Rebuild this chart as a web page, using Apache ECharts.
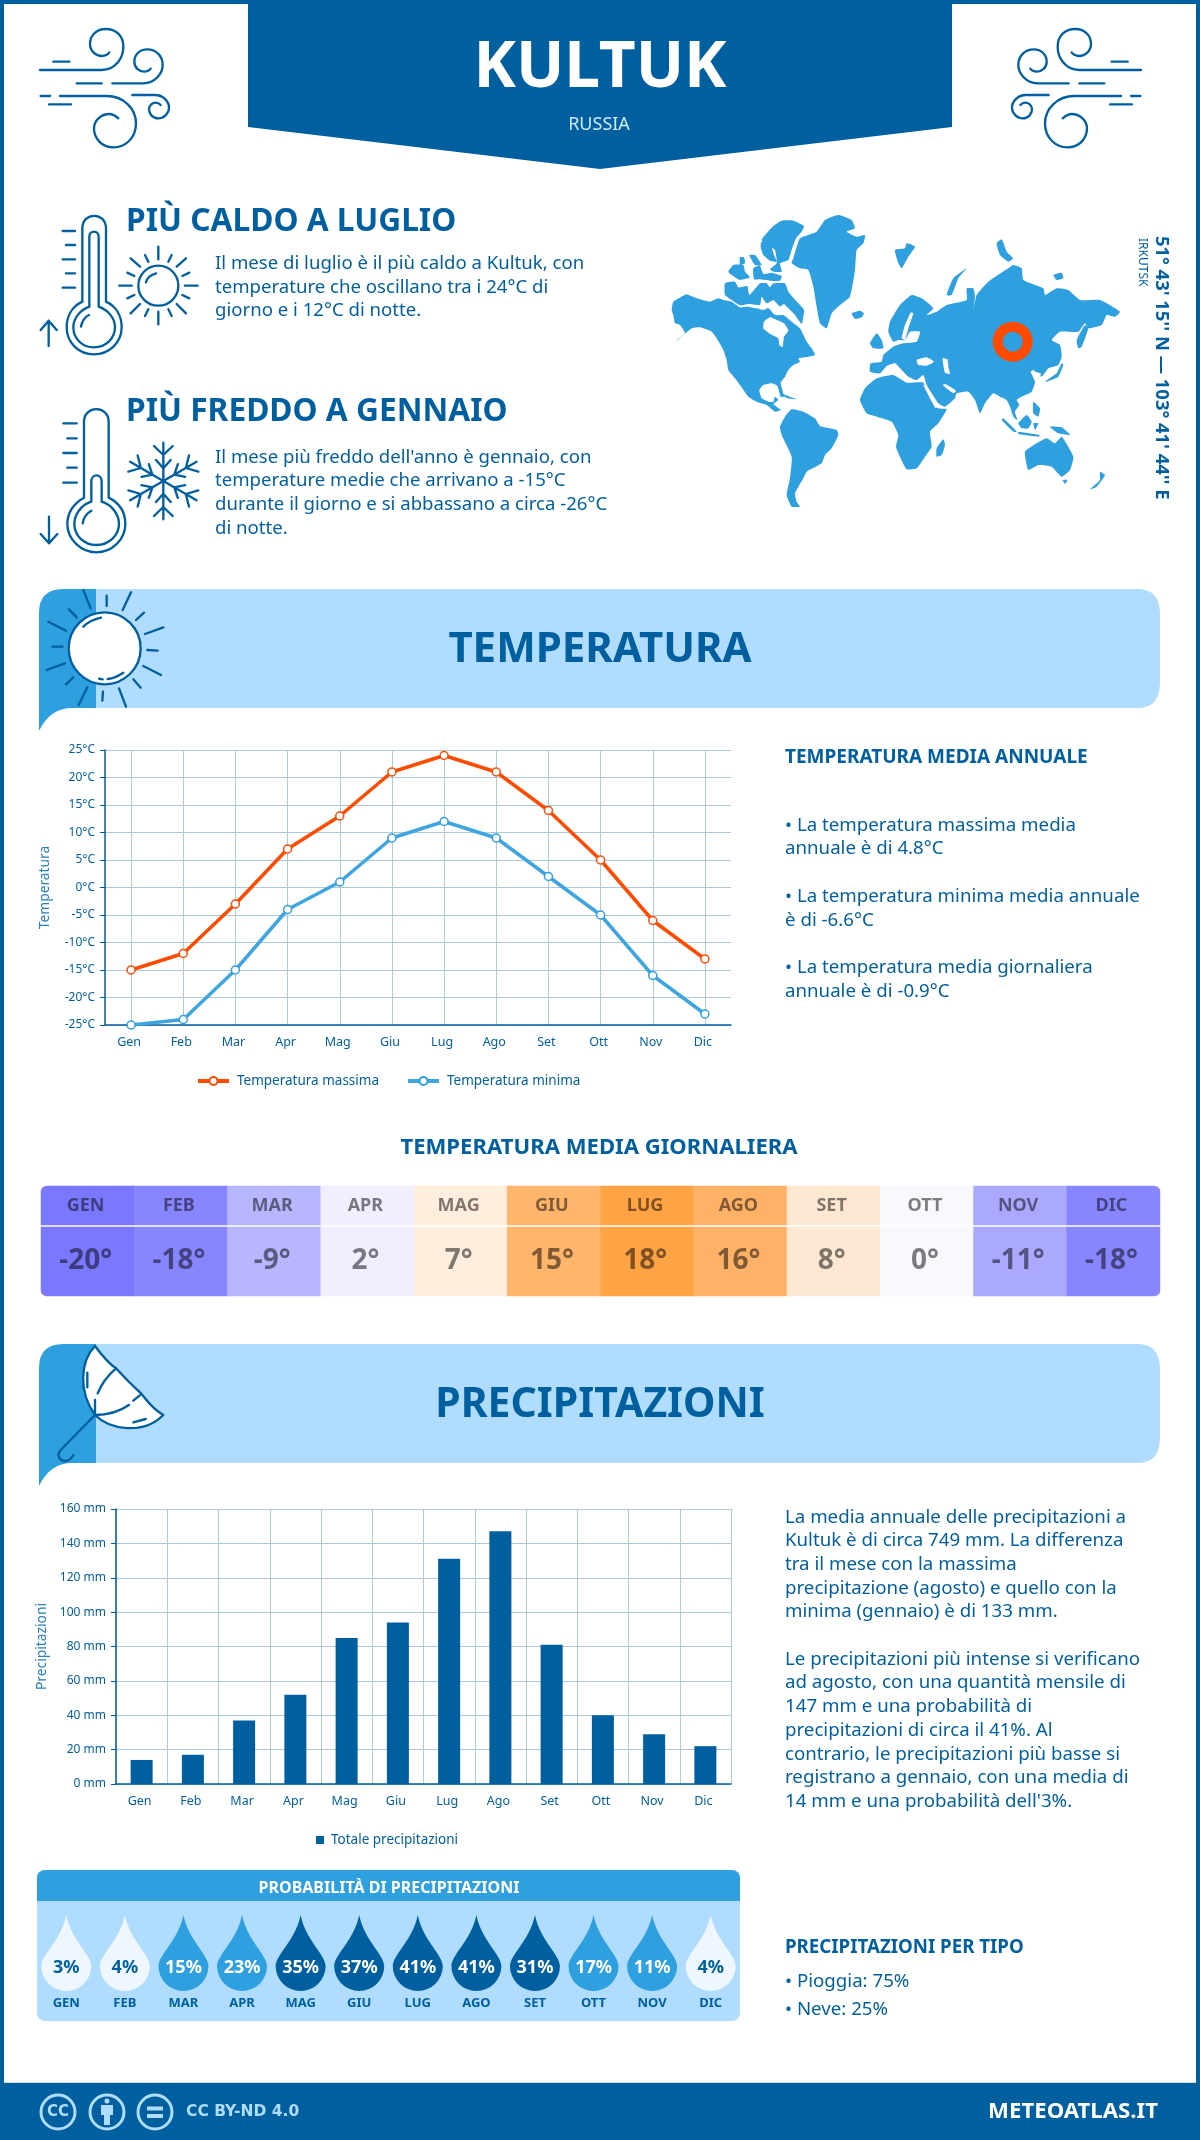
<!DOCTYPE html>
<html>
<head>
<meta charset="utf-8">
<title>Kultuk</title>
<script src="https://cdn.jsdelivr.net/npm/echarts@6/dist/echarts.min.js"></script>
<style>
  html, body { margin: 0; padding: 0; background: #fff; }
  #chart { width: 1200px; height: 2140px; }
</style>
</head>
<body>
<div id="chart"></div>
<script>
// values
const months = ['Gen', 'Feb', 'Mar', 'Apr', 'Mag', 'Giu', 'Lug', 'Ago', 'Set', 'Ott', 'Nov', 'Dic']
const monthsUp = ['GEN', 'FEB', 'MAR', 'APR', 'MAG', 'GIU', 'LUG', 'AGO', 'SET', 'OTT', 'NOV', 'DIC']
const tempMax = [-15, -12, -3, 7, 13, 21, 24, 21, 14, 5, -6, -13]
const tempMin = [-25, -24, -15, -4, 1, 9, 12, 9, 2, -5, -16, -23]
const tempDaily = [-20, -18, -9, 2, 7, 15, 18, 16, 8, 0, -11, -18]
const precip = [14, 17, 37, 52, 85, 94, 131, 147, 81, 40, 29, 22]
const precipProb = [3, 4, 15, 23, 35, 37, 41, 41, 31, 17, 11, 4]

const DARK = '#005f9e'
const MID = '#2e9fdf'
const PALE = '#b0dcff'
const ORANGE = '#ff4b00'
const GRID = '#adc9de'
const FONT = '"Noto Sans", "Open Sans", sans-serif'

// colour of each daily temperature cell, month by month
const dailyColors = ['#7a78ff', '#8886ff', '#b7b6ff', '#f0efff', '#ffeedd', '#ffb56b', '#ffa344', '#ffb267', '#ffe8d2', '#f8f8ff', '#aaa9ff', '#8886ff']

const hotText = ['Il mese di luglio è il più caldo a Kultuk, con', 'temperature che oscillano tra i 24°C di', 'giorno e i 12°C di notte.']
const coldText = ["Il mese più freddo dell'anno è gennaio, con", 'temperature medie che arrivano a -15°C', 'durante il giorno e si abbassano a circa -26°C', 'di notte.']
const annualText = [
  [825, '• La temperatura massima media'], [848, 'annuale è di 4.8°C'],
  [896, '• La temperatura minima media annuale'], [920, 'è di -6.6°C'],
  [967, '• La temperatura media giornaliera'], [991, 'annuale è di -0.9°C']
]
const rainText = [
  [1517, 'La media annuale delle precipitazioni a'], [1540, 'Kultuk è di circa 749 mm. La differenza'],
  [1564, 'tra il mese con la massima'], [1588, 'precipitazione (agosto) e quello con la'],
  [1611, 'minima (gennaio) è di 133 mm.'],
  [1659, 'Le precipitazioni più intense si verificano'], [1682, 'ad agosto, con una quantità mensile di'],
  [1706, '147 mm e una probabilità di'], [1730, 'precipitazioni di circa il 41%. Al'],
  [1754, 'contrario, le precipitazioni più basse si'], [1777, 'registrano a gennaio, con una media di'],
  [1801, "14 mm e una probabilità dell'3%."]
]

// decoration helpers
function label(text, x, y, size, opt) {
  opt = opt || {}
  return {
    type: 'text', x: x, y: y + 1, rotation: opt.rotation || 0, silent: true,
    style: {
      text: text, fill: opt.fill || DARK, align: opt.align || 'left', verticalAlign: 'middle',
      fontFamily: opt.family || FONT, fontSize: size, fontWeight: opt.weight || 'normal'
    }
  }
}
function rect(x, y, w, h, fill, r) {
  return { type: 'rect', silent: true, shape: { x: x, y: y, width: w, height: h, r: r || 0 }, style: { fill: fill } }
}
// the graphic component has no plain path type, so each outline gets its own shape class
let pathCount = 0
function pathType(d) {
  const name = 'outline' + (pathCount++)
  echarts.graphic.registerShape(name, echarts.graphic.extendPath(d))
  return name
}
// stroked icon traced in 3x zoom coordinates
function icon(type, ox, oy, width, fill, flip) {
  return {
    type: type, silent: true, x: ox, y: oy, scaleX: flip ? -1 / 3 : 1 / 3, scaleY: 1 / 3,
    style: { stroke: DARK, fill: fill || 'none', lineWidth: width || 7, lineCap: 'round', lineJoin: 'round' }
  }
}
function land(points) {
  return {
    type: 'polygon', silent: true, x: 660, y: 200, scaleX: 1 / 3, scaleY: 1 / 3,
    shape: { points: points, smooth: 0.15 }, style: { fill: MID }
  }
}
function sea(points) {
  return {
    type: 'polygon', silent: true, x: 660, y: 200, scaleX: 1 / 3, scaleY: 1 / 3,
    shape: { points: points, smooth: 0.15 }, style: { fill: '#fff' }
  }
}

const windPath = pathType('M60,180 L245,180 C290,180 310,140 310,110 C310,75 285,57 258,57 C225,57 210,80 210,102 C210,125 230,138 245,138 C258,138 268,130 268,127 ' +
  'M100,155 L148,155 M170,220 L245,220 M277,220 L370,220 C405,220 428,190 428,165 C428,135 405,118 382,118 C358,118 343,135 343,155 C343,175 360,185 372,185 C382,185 392,178 392,176 ' +
  'M62,258 L90,258 M120,258 L260,258 C310,258 348,295 348,340 C348,385 315,412 280,412 C245,412 222,385 222,355 C222,330 245,312 268,312 C280,312 295,325 295,325 ' +
  'M87,283 L153,283 M337,255 L405,255 C430,255 447,275 447,292 C447,312 430,325 415,325 C398,325 387,312 387,298 C387,285 398,278 408,278 C415,278 422,285 422,285')

const hotThermo = pathType('M187,305 L187,85 C187,35 258,35 258,85 L258,305 C290,320 305,350 305,382 C305,430 265,463 222,463 C178,463 140,430 140,382 C140,350 155,320 187,305 Z ' +
  'M208,320 L208,110 C208,90 236,90 236,110 L236,320 C265,330 285,355 285,382 C285,415 258,442 222,442 C186,442 160,415 160,382 C160,355 180,330 208,320 Z ' +
  'M183,380 C185,365 195,350 207,345 ' +
  'M128,93 L165,93 M138,135 L165,135 M128,178 L165,178 M138,220 L165,220 M128,263 L165,263 ' +
  'M86,438 L86,362 M62,390 L86,362 L110,390')
const hotSun = pathType('M355,257 A60,60 0 1 1 475,257 A60,60 0 1 1 355,257 Z M378,247 C380,235 392,225 408,220 ' +
  'M415,140 L415,178 M415,335 L415,373 M298,257 L335,257 M495,257 L533,257 ' +
  'M332,175 L360,200 M498,175 L470,200 M332,340 L360,312 M498,340 L470,312 ' +
  'M375,165 L385,185 M455,165 L445,185 M322,218 L343,228 M508,218 L487,228 ' +
  'M322,295 L343,285 M508,295 L487,285 M375,348 L385,328 M455,348 L445,328')
const coldThermo = pathType('M192,893 L192,665 C192,615 266,615 266,665 L266,893 C300,910 316,940 316,972 C316,1020 275,1057 229,1057 C185,1057 142,1020 142,972 C142,940 160,910 192,893 Z ' +
  'M214,905 L214,845 C214,820 245,820 245,845 L245,905 C278,915 297,945 297,972 C297,1005 268,1035 229,1035 C190,1035 163,1005 163,972 C163,945 182,915 214,905 Z ' +
  'M188,970 C190,955 200,940 214,932 ' +
  'M130,670 L170,670 M142,715 L170,715 M130,759 L170,759 M142,803 L170,803 M130,848 L170,848 ' +
  'M87,950 L87,1030 M62,1002 L87,1030 L112,1002')
const flakeArm = pathType('M430,843 L430,728 M402,738 L430,765 L458,738 M408,780 L430,805 L452,780')

const bannerSunRays = pathType('M160,30 L182,85 M230,47 L230,78 M303,37 L278,90 M342,98 L318,120 M400,142 L345,162 M383,212 L352,210 ' +
  'M393,285 L340,258 M332,323 L310,298 M288,380 L267,325 M217,362 L219,335 M146,375 L172,322 M130,292 L108,313 ' +
  'M105,250 L50,270 M97,200 L67,200 M108,152 L55,125 M140,112 L117,88 ' +
  'M160,140 C175,125 195,117 213,113 M207,296 L218,298 M233,297 C250,295 265,288 280,278')
const umbrellaTop = pathType('M195,33 C150,80 145,170 195,240 C240,285 340,300 400,240 C365,220 350,195 333,175 C305,150 285,130 258,100 C235,85 215,60 195,33 Z')
const umbrellaRest = pathType('M195,240 C240,240 275,225 297,210 M310,197 L333,178 M195,240 L195,195 M203,175 C215,145 235,120 258,100 ' +
  'M172,113 L172,157 M310,262 L347,252 M195,240 L92,345 C78,362 90,378 105,378 C115,378 125,370 130,360')

function banner(top, title, size) {
  const bottom = top + 119
  const body = pathType('M96,' + top + ' L1138,' + top + ' Q1160,' + top + ' 1160,' + (top + 26) + ' L1160,' + (bottom - 26) + ' Q1160,' + bottom + ' 1138,' + bottom + ' L96,' + bottom + ' Z')
  const tail = pathType('M39,' + (bottom + 23) + ' L39,' + (top + 24) + ' Q39,' + top + ' 63,' + top + ' L96,' + top + ' L96,' + bottom + ' L72,' + bottom + ' Q50,' + bottom + ' 39,' + (bottom + 23) + ' Z')
  return [
    { type: body, silent: true, style: { fill: PALE } },
    { type: tail, silent: true, style: { fill: MID } },
    label(title, 600, top + 60, size, { align: 'center', weight: 'bold' })
  ]
}

const graphics = [
  // frame and footer
  rect(0, 0, 1200, 4, DARK), rect(0, 0, 4, 2140, DARK), rect(1196, 0, 4, 2140, DARK),
  rect(4, 2082, 1192, 1, '#d8dde2'), rect(0, 2083, 1200, 57, DARK),
  // header ribbon
  { type: 'polygon', silent: true, shape: { points: [[248, 0], [952, 0], [952, 127], [600, 169], [248, 127]] }, style: { fill: DARK } },
  label('KULTUK', 600, 68, 64, { align: 'center', weight: 'bold', fill: '#fff' }),
  label('RUSSIA', 599, 124, 18, { align: 'center', fill: '#cfe9ff' }),
  icon(windPath, 20, 10), icon(windPath, 1161, 10, 7, null, true),
  // hottest and coldest blocks
  icon(hotThermo, 20, 200), icon(hotSun, 20, 200),
  icon(coldThermo, 20, 200),
  label('PIÙ CALDO A LUGLIO', 126, 221, 31.7, { weight: 'bold' }),
  label('PIÙ FREDDO A GENNAIO', 126, 411, 31.7, { weight: 'bold' })
]
hotText.forEach((t, i) => graphics.push(label(t, 215, 263 + i * 23.6, 18.6)))
coldText.forEach((t, i) => graphics.push(label(t, 215, 456.5 + i * 23.7, 18.6)))
for (let k = 0; k < 6; k++) {
  const el = icon(flakeArm, 20 + 430 / 3 - 430, 200 + 843 / 3 - 843)
  el.originX = 430; el.originY = 843; el.rotation = k * Math.PI / 3
  graphics.push(el)
}

// world map
const landShapes = [
  // north and central america
  [[40,305],[65,290],[80,283],[110,295],[150,305],[175,295],[190,300],[215,305],[240,322],[262,320],[290,325],[310,330],[325,324],[345,345],[370,345],[395,365],[420,385],[440,425],[455,445],[465,465],[445,470],[415,475],[420,485],[400,495],[385,510],[375,530],[362,548],[372,590],[362,590],[352,558],[335,550],[310,555],[298,570],[305,595],[325,605],[340,605],[345,590],[355,600],[340,612],[362,630],[345,635],[320,615],[290,605],[265,590],[240,555],[225,535],[205,510],[200,480],[190,450],[170,415],[155,395],[120,382],[95,385],[60,415],[45,425],[75,400],[60,375],[45,370],[40,345],[35,330]],
  // arctic canada
  [[320,100],[340,78],[365,62],[400,62],[432,78],[425,95],[408,115],[395,150],[385,180],[360,190],[365,215],[340,215],[330,208],[350,190],[345,150],[320,135],[305,120]],
  [[305,125],[330,130],[342,165],[350,185],[330,182],[310,165],[302,140]],
  [[280,205],[300,197],[310,222],[335,218],[365,228],[360,242],[330,242],[300,238],[282,238]],
  [[205,215],[220,195],[250,195],[255,215],[270,232],[240,240],[215,225]],
  [[268,165],[285,165],[305,195],[285,195]],
  [[240,172],[252,172],[255,190],[240,195]],
  [[195,250],[225,245],[235,262],[262,258],[268,285],[300,250],[320,250],[330,262],[340,250],[375,250],[385,275],[415,310],[432,330],[425,372],[405,345],[385,325],[372,312],[360,320],[350,310],[340,300],[320,310],[305,290],[300,315],[265,312],[240,316],[215,300],[195,285]],
  // greenland, iceland
  [[400,175],[420,115],[470,95],[495,60],[535,45],[575,60],[585,85],[560,95],[590,110],[615,105],[610,130],[590,150],[585,210],[570,290],[540,315],[515,340],[500,385],[480,370],[470,320],[460,260],[445,210],[420,205],[395,190]],
  [[575,340],[600,332],[612,340],[605,352],[585,357]],
  // caribbean
  [[360,580],[410,598],[380,594]],
  // south america
  [[360,680],[375,650],[395,628],[430,635],[465,655],[480,678],[530,690],[535,705],[515,745],[495,765],[485,790],[440,815],[430,835],[405,880],[410,905],[420,920],[395,920],[380,885],[390,835],[395,770],[365,705]],
  // africa, madagascar
  [[600,600],[615,565],[650,535],[700,525],[740,548],[790,548],[815,600],[835,625],[860,628],[835,670],[810,695],[815,740],[795,770],[770,805],[740,808],[720,770],[708,740],[715,705],[695,665],[650,650],[620,640]],
  [[850,718],[855,735],[845,765],[830,770],[830,745]],
  // eurasia
  [[630,515],[632,490],[665,485],[670,465],[700,440],[730,430],[770,425],[780,395],[750,395],[735,420],[715,420],[700,425],[685,395],[690,365],[720,315],[755,285],[785,295],[820,325],[800,345],[830,335],[860,315],[920,300],[920,265],[940,265],[945,290],[940,330],[950,285],[985,245],[1045,205],[1060,195],[1085,205],[1090,240],[1150,265],[1155,285],[1190,265],[1225,270],[1260,300],[1320,300],[1380,335],[1365,350],[1340,345],[1325,375],[1285,385],[1275,370],[1255,395],[1200,395],[1175,420],[1200,435],[1205,470],[1195,495],[1165,505],[1145,530],[1120,510],[1112,515],[1125,545],[1115,575],[1085,590],[1070,600],[1078,615],[1065,635],[1072,660],[1060,650],[1050,620],[1040,600],[1020,590],[1000,580],[975,610],[960,640],[945,600],[925,575],[890,580],[885,595],[855,620],[835,610],[800,555],[790,525],[770,540],[745,530],[725,510],[705,490],[680,498],[660,520]],
  // islands of the old world
  [[630,430],[650,400],[665,420],[670,445],[640,445]],
  [[860,285],[880,235],[920,205],[895,235],[875,285]],
  [[705,150],[735,145],[740,130],[765,140],[745,170],[725,205],[715,190]],
  [[1010,130],[1025,118],[1040,155],[1060,175],[1045,185],[1020,165]],
  [[1180,225],[1205,218],[1210,235],[1190,240]],
  [[1250,420],[1275,375],[1285,385],[1265,440],[1255,445]],
  [[1155,545],[1190,520],[1205,490],[1210,495],[1195,530],[1160,545]],
  [[1030,655],[1070,695],[1060,695],[1025,660]],
  [[1075,695],[1140,705],[1135,710],[1075,702]],
  [[1075,670],[1100,645],[1115,665],[1105,685],[1085,685]],
  [[1120,670],[1135,670],[1125,690]],
  [[1120,605],[1140,625],[1135,650],[1120,640]],
  [[1170,680],[1205,682],[1230,705],[1195,700]],
  // oceania
  [[1095,755],[1130,730],[1160,715],[1185,730],[1205,710],[1240,770],[1230,810],[1205,830],[1175,800],[1135,795],[1105,810]],
  [[1208,840],[1222,840],[1215,852]],
  [[1320,815],[1335,825],[1310,860],[1290,868],[1320,840]]
]
const seaShapes = [
  [[312,365],[330,352],[350,360],[372,370],[385,392],[372,410],[368,442],[358,435],[355,415],[330,402],[310,385]], // hudson bay
  [[770,480],[800,472],[822,485],[800,497],[775,495]], // black sea
  [[848,475],[862,478],[866,505],[870,522],[855,518],[850,495]], // caspian
  [[790,555],[796,555],[832,622],[826,624]], // red sea
  [[848,555],[856,552],[888,572],[880,580]], // gulf
  [[735,420],[745,385],[760,340],[752,338],[735,375],[725,415]], // baltic
  [[1120,515],[1142,520],[1140,530],[1122,530]] // yellow sea
]
landShapes.forEach(p => graphics.push(land(p)))
seaShapes.forEach(p => graphics.push(sea(p)))
graphics.push(
  { type: 'ring', silent: true, shape: { cx: 1012.7, cy: 341.7, r: 20, r0: 10 }, style: { fill: ORANGE } },
  label("51° 43' 15'' N — 103° 41' 44'' E", 1161, 235, 18.4, { rotation: -Math.PI / 2, weight: 'bold' }),
  label('IRKUTSK', 1142, 237, 12, { rotation: -Math.PI / 2 })
)

// temperature section
graphics.push(...banner(589, 'TEMPERATURA', 42))
graphics.push(
  { type: 'circle', silent: true, x: 30, y: 580, scaleX: 1 / 3, scaleY: 1 / 3, shape: { cx: 224, cy: 205, r: 108 }, style: { fill: '#fff', stroke: DARK, lineWidth: 7 } },
  icon(bannerSunRays, 30, 580),
  label('TEMPERATURA MEDIA ANNUALE', 785, 757, 19, { weight: 'bold' }),
  label('TEMPERATURA MEDIA GIORNALIERA', 599, 1147, 22.1, { align: 'center', weight: 'bold' })
)
annualText.forEach(t => graphics.push(label(t[1], 785, t[0], 18.7)))

// precipitation section
graphics.push(...banner(1344, 'PRECIPITAZIONI', 41))
graphics.push(
  icon(umbrellaTop, 30, 1335, 7, '#fff'), icon(umbrellaRest, 30, 1335),
  rect(37, 1870, 703, 151, PALE, 8),
  rect(37, 1870, 703, 31, MID, [8, 8, 0, 0]),
  label('PROBABILITÀ DI PRECIPITAZIONI', 389, 1887, 16, { align: 'center', weight: 'bold', fill: '#fff' }),
  label('PRECIPITAZIONI PER TIPO', 785, 1947, 18.7, { weight: 'bold' }),
  label('• Pioggia: 75%', 785, 1981, 18.7),
  label('• Neve: 25%', 785, 2009, 18.7)
)
rainText.forEach(t => graphics.push(label(t[1], 785, t[0], 18.7)))

// footer licence marks
function footIcon(type, ox, fill) {
  return {
    type: type, silent: true, x: ox, y: 2112,
    style: { fill: fill ? PALE : 'none', stroke: fill ? 'none' : PALE, lineWidth: 3 }
  }
}
const footCircle = pathType('M-17,0 A17,17 0 1 1 17,0 A17,17 0 1 1 -17,0 Z')
const footPerson = pathType('M-2.5,-11 A2.5,2.5 0 1 1 2.5,-11 A2.5,2.5 0 1 1 -2.5,-11 Z M-6,-7 L6,-7 L6,3 L3,3 L3,13 L-3,13 L-3,3 L-6,3 Z')
const footEqual = pathType('M-8,-5.5 L8,-5.5 L8,-1.5 L-8,-1.5 Z M-8,2 L8,2 L8,6 L-8,6 Z')
graphics.push(
  footIcon(footCircle, 58), footIcon(footCircle, 107), footIcon(footCircle, 155),
  label('CC', 58, 2111, 15, { align: 'center', weight: 'bold', fill: PALE, family: '"DejaVu Sans", sans-serif' }),
  footIcon(footPerson, 107, true),
  footIcon(footEqual, 155, true),
  label('CC BY-ND 4.0', 186, 2111, 15.5, { weight: 'bold', fill: PALE, family: '"DejaVu Sans", sans-serif' }),
  label('METEOATLAS.IT', 1158, 2111, 22.2, { align: 'right', weight: 'bold', fill: '#fff' })
)

const axisText = { color: DARK, fontFamily: FONT, fontSize: 12 }
const monthText = { color: DARK, fontFamily: FONT, fontSize: 12.5, padding: [0, 4, 0, 0] }
const nameText = { color: '#2a7fb8', fontFamily: FONT, fontSize: 13.8 }

const option = {
  animation: false,
  backgroundColor: '#fff',
  graphic: graphics,
  legend: [
    {
      left: 196, top: 1074, padding: 0, itemWidth: 31, itemHeight: 10, itemGap: 27,
      data: ['Temperatura massima', 'Temperatura minima'],
      lineStyle: { width: 4 },
      textStyle: { color: DARK, fontFamily: FONT, fontSize: 13.5, padding: [0, 0, 0, 3] }
    },
    {
      left: 316, top: 1833, padding: 0, itemWidth: 8, itemHeight: 8, icon: 'rect',
      data: ['Totale precipitazioni'],
      textStyle: { color: DARK, fontFamily: FONT, fontSize: 13.5, padding: [0, 0, 0, 2] }
    }
  ],
  grid: [
    { left: 105, width: 626, top: 750, height: 275 },
    { left: 116, width: 615, top: 1509, height: 275 },
    { left: 41, width: 1119, top: 1186, height: 39 },
    { left: 41, width: 1119, top: 1227, height: 69 },
    { left: 37, width: 703, top: 1915, height: 76 }
  ],
  xAxis: [
    {
      gridIndex: 0, type: 'category', data: months,
      axisLine: { onZero: false, lineStyle: { color: DARK, width: 1.5 } }, axisTick: { show: false },
      axisLabel: Object.assign({ margin: 11 }, monthText),
      splitLine: { show: true, alignWithLabel: true, lineStyle: { color: GRID, width: 1 } }
    },
    {
      gridIndex: 1, type: 'category', data: months,
      axisLine: { lineStyle: { color: DARK, width: 1.5 } }, axisTick: { show: false },
      axisLabel: Object.assign({ margin: 11 }, monthText),
      splitLine: { show: true, lineStyle: { color: GRID, width: 1 } }
    },
    { gridIndex: 2, type: 'category', data: months, show: false },
    { gridIndex: 3, type: 'category', data: months, show: false },
    {
      gridIndex: 4, type: 'category', data: monthsUp,
      axisLine: { show: false }, axisTick: { show: false }, splitLine: { show: false },
      axisLabel: { margin: 6, color: DARK, fontFamily: FONT, fontSize: 13, fontWeight: 'bold' }
    }
  ],
  yAxis: [
    {
      gridIndex: 0, type: 'value', min: -25, max: 25, interval: 5,
      name: 'Temperatura', nameLocation: 'middle', nameGap: 53, nameTextStyle: nameText,
      axisLine: { show: true, lineStyle: { color: DARK, width: 1.5 } },
      axisTick: { show: true, length: 5, lineStyle: { color: DARK } },
      axisLabel: Object.assign({ formatter: '{value}°C', margin: 10 }, axisText),
      splitLine: { show: true, lineStyle: { color: GRID, width: 1 } }
    },
    {
      gridIndex: 1, type: 'value', min: 0, max: 160, interval: 20,
      name: 'Precipitazioni', nameLocation: 'middle', nameGap: 64, nameTextStyle: nameText,
      axisLine: { show: true, lineStyle: { color: DARK, width: 1.5 } },
      axisTick: { show: true, length: 5, lineStyle: { color: DARK } },
      axisLabel: Object.assign({ formatter: '{value} mm', margin: 10 }, axisText),
      splitLine: { show: true, lineStyle: { color: GRID, width: 1 } }
    },
    { gridIndex: 2, type: 'category', data: ['mese'], show: false },
    { gridIndex: 3, type: 'category', data: ['gradi'], show: false },
    { gridIndex: 4, type: 'value', min: 0, max: 1, show: false }
  ],
  series: [
    {
      name: 'Temperatura massima', type: 'line', xAxisIndex: 0, yAxisIndex: 0, data: tempMax,
      symbol: 'circle', symbolSize: 8, clip: false, z: 3,
      lineStyle: { color: ORANGE, width: 3.5 },
      itemStyle: { color: '#fff', borderColor: ORANGE, borderWidth: 1.5 }
    },
    {
      name: 'Temperatura minima', type: 'line', xAxisIndex: 0, yAxisIndex: 0, data: tempMin,
      symbol: 'circle', symbolSize: 8, clip: false, z: 3,
      lineStyle: { color: '#3ea5e0', width: 3.5 },
      itemStyle: { color: '#fff', borderColor: MID, borderWidth: 1.5 }
    },
    {
      name: 'Totale precipitazioni', type: 'bar', xAxisIndex: 1, yAxisIndex: 1, data: precip,
      barWidth: 22, itemStyle: { color: DARK }
    },
    {
      type: 'heatmap', xAxisIndex: 2, yAxisIndex: 2,
      data: tempDaily.map((v, i) => ({ value: [i, 0, v], itemStyle: { color: dailyColors[i], borderRadius: i === 0 ? [6, 0, 0, 0] : i === 11 ? [0, 6, 0, 0] : 0 } })),
      label: {
        show: true, formatter: p => monthsUp[p.value[0]], offset: [-2, 0],
        color: 'rgba(0,0,0,0.5)', fontFamily: FONT, fontSize: 18, fontWeight: 'bold'
      }
    },
    {
      type: 'heatmap', xAxisIndex: 3, yAxisIndex: 3,
      data: tempDaily.map((v, i) => ({ value: [i, 0, v], itemStyle: { color: dailyColors[i], borderRadius: i === 0 ? [0, 0, 0, 6] : i === 11 ? [0, 0, 6, 0] : 0 } })),
      label: {
        show: true, formatter: p => p.value[2] + '°', offset: [-2, 0],
        color: 'rgba(0,0,0,0.5)', fontFamily: FONT, fontSize: 28, fontWeight: 'bold'
      }
    },
    {
      type: 'scatter', xAxisIndex: 4, yAxisIndex: 4,
      symbol: 'path://M25,0 C30,25 50,40 50,51 A25,25 0 1 1 0,51 C0,40 20,25 25,0 Z',
      symbolSize: [50, 76],
      data: precipProb.map((p, i) => {
        const low = p < 10
        const fill = low ? '#eef7ff' : p < 30 ? MID : DARK
        return {
          value: [i, 0.5, p], itemStyle: { color: fill, opacity: 1 },
          label: { color: low ? DARK : '#fff' }
        }
      }),
      label: {
        show: true, position: 'inside', offset: [0, 15], formatter: p => p.value[2] + '%',
        fontFamily: FONT, fontSize: 18, fontWeight: 'bold'
      }
    }
  ]
}

const chart = echarts.init(document.getElementById('chart'), null, { width: 1200, height: 2140 })
chart.setOption(option)
</script>
</body>
</html>
